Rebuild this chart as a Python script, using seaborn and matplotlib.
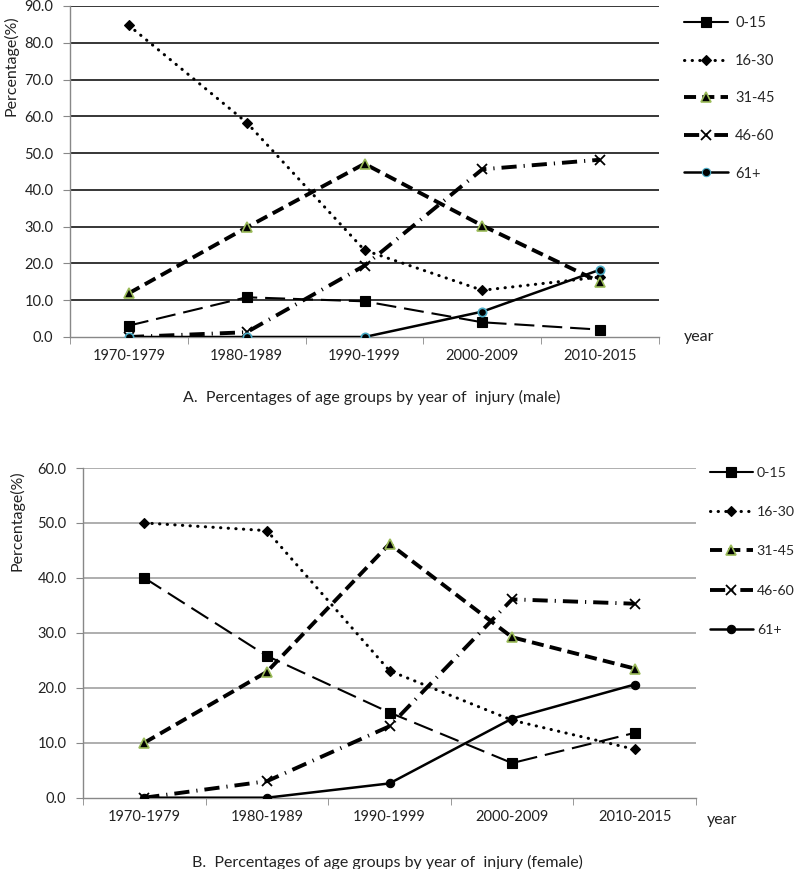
import numpy as np
import pandas as pd
import matplotlib
matplotlib.use("Agg")
import matplotlib.pyplot as plt
from matplotlib.lines import Line2D
import seaborn as sns

# Данные
periods = ["1970-1979", "1980-1989", "1990-1999", "2000-2009", "2010-2015"]
age_groups = ["0-15", "16-30", "31-45", "46-60", "61+"]

male_0_15 = [3.1, 10.8, 9.7, 4.0, 2.0]
male_16_30 = [84.7, 58.3, 23.6, 12.7, 16.3]
male_31_45 = [11.9, 29.8, 47.1, 30.3, 14.9]
male_46_60 = [0.0, 1.3, 19.4, 45.6, 48.2]
male_61_plus = [0.0, 0.0, 0.0, 6.9, 18.3]

female_0_15 = [40.0, 25.8, 15.5, 6.3, 11.8]
female_16_30 = [50.0, 48.6, 23.1, 14.1, 8.8]
female_31_45 = [10.0, 22.9, 46.2, 29.2, 23.5]
female_46_60 = [0.0, 3.0, 13.0, 36.1, 35.3]
female_61_plus = [0.0, 0.0, 2.6, 14.4, 20.6]

male = [male_0_15, male_16_30, male_31_45, male_46_60, male_61_plus]
female = [female_0_15, female_16_30, female_31_45, female_46_60, female_61_plus]

sns.set_style("white")
plt.rcParams["font.family"] = ["Lato", "DejaVu Sans"]

W, H = 800, 869
fig = plt.figure(figsize=(W / 100, H / 100), dpi=100)


def px_rect(x0, y0, x1, y1):
    return [x0 / W, 1 - y1 / H, (x1 - x0) / W, (y1 - y0) / H]


# стили линий для групп
styles = {
    "0-15": dict(lw=1.5, ls=(0, (9.6, 3.8)), marker="s", ms=6.5, mfc="black", mec="black", mew=0.8),
    "16-30": dict(lw=2.2, ls=(0, (0.1, 2.4)), marker="D", ms=5.2, mfc="black", mec="black", mew=0.8,
                  dash_capstyle="round"),
    "31-45": dict(lw=2.8, ls=(0, (3.1, 1.6)), marker="^", ms=7, mfc="black", mec="#9bbb59", mew=1.2),
    "46-60": dict(lw=2.8, ls=(0, (3.9, 1.8, 0.3, 1.8)), marker="x", ms=7, mfc="black", mec="black", mew=1.3),
    "61+": dict(lw=1.8, ls="-", marker="o", ms=6, mfc="black", mec="black", mew=0.8),
}


def draw(ax, series, ymax, grid_color, grid_lw, circle_edge):
    x = np.arange(len(periods))
    for grp, vals in zip(age_groups, series):
        st = dict(styles[grp])
        if grp == "61+":
            st["mec"] = circle_edge
            st["mew"] = 1.2 if circle_edge != "black" else 0.8
        df = pd.DataFrame({"period": x, "value": vals})
        sns.lineplot(data=df, x="period", y="value", ax=ax, color="black",
                     linewidth=st["lw"], linestyle=st["ls"], marker=st["marker"],
                     markersize=st["ms"], markerfacecolor=st["mfc"],
                     markeredgecolor=st["mec"], markeredgewidth=st["mew"],
                     dash_capstyle=st.get("dash_capstyle", "butt"), zorder=3)
    ax.set_xlim(-0.5, len(periods) - 0.5)
    ax.set_ylim(0, ymax)
    ax.set_yticks(np.arange(0, ymax + 1, 10))
    ax.set_yticklabels([f"{v:.1f}" for v in np.arange(0, ymax + 1, 10)], fontsize=10.5, color="#222222")
    ax.set_xticks(x)
    ax.set_xticklabels(periods, fontsize=10.5, color="#222222")
    ax.set_xticks(np.arange(-0.5, len(periods), 1), minor=True)
    ax.tick_params(axis="x", which="major", length=0, pad=9)
    ax.tick_params(axis="x", which="minor", length=5, color="#888888", direction="out", bottom=True)
    ax.tick_params(axis="y", length=5, color="#888888", direction="out", left=True, pad=7)
    ax.set_xlabel("")
    ax.set_ylabel("")
    for y in np.arange(10, ymax + 1, 10):
        ax.axhline(y, color=grid_color, lw=grid_lw, zorder=1)
    for s in ["top", "right"]:
        ax.spines[s].set_visible(False)
    for s in ["left", "bottom"]:
        ax.spines[s].set_color("#888888")
        ax.spines[s].set_linewidth(1.0)


def legend_handles(circle_edge):
    hs = []
    for grp in age_groups:
        st = styles[grp]
        ls = "-" if grp == "0-15" else st["ls"]
        mec = circle_edge if grp == "61+" else st["mec"]
        hs.append(Line2D([], [], color="black", lw=st["lw"], ls=ls, marker=st["marker"],
                         ms=st["ms"], mfc=st["mfc"], mec=mec, mew=st["mew"],
                         dash_capstyle=st.get("dash_capstyle", "butt")))
    return hs


# A. мужчины
ax1 = fig.add_axes(px_rect(70, 6, 659, 337))
draw(ax1, male, 90, "black", 1.1, "#4bacc6")
ax1.set_ylabel("Percentage(%)", fontsize=11.5, color="#222222")
ax1.yaxis.set_label_coords(-0.088, 0.82)
ax1.text(684 / W, 1 - 337 / H, "year", transform=fig.transFigure, fontsize=11.5,
         va="center", ha="left", color="#222222")
fig.legend(handles=legend_handles("#4bacc6"), labels=age_groups, loc="upper left",
           bbox_to_anchor=(684 / W, 1 - 16 / H), frameon=False, fontsize=10.5,
           handlelength=3.0, handletextpad=0.5, labelspacing=1.62, borderpad=0,
           borderaxespad=0)
fig.text(372 / W, 1 - 397 / H, "A.  Percentages of age groups by year of  injury (male)",
         ha="center", va="center", fontsize=11.5, color="#222222")

# B. женщины
ax2 = fig.add_axes(px_rect(83, 468, 696, 797.7))
draw(ax2, female, 60, "#999999", 1.1, "black")
ax2.set_ylabel("Percentage(%)", fontsize=11.5, color="#222222")
ax2.yaxis.set_label_coords(-0.095, 0.84)
ax2.text(707 / W, 1 - 820 / H, "year", transform=fig.transFigure, fontsize=11.5,
         va="center", ha="left", color="#222222")
fig.legend(handles=legend_handles("black"), labels=age_groups, loc="upper left",
           bbox_to_anchor=(710 / W, 1 - 467 / H), frameon=False, fontsize=10.2,
           handlelength=3.0, handletextpad=0.3, labelspacing=1.92, borderpad=0,
           borderaxespad=0)
fig.text(387 / W, 1 - 862 / H, "B.  Percentages of age groups by year of  injury (female)",
         ha="center", va="center", fontsize=11.5, color="#222222")

fig.savefig("out.png", dpi=100)
